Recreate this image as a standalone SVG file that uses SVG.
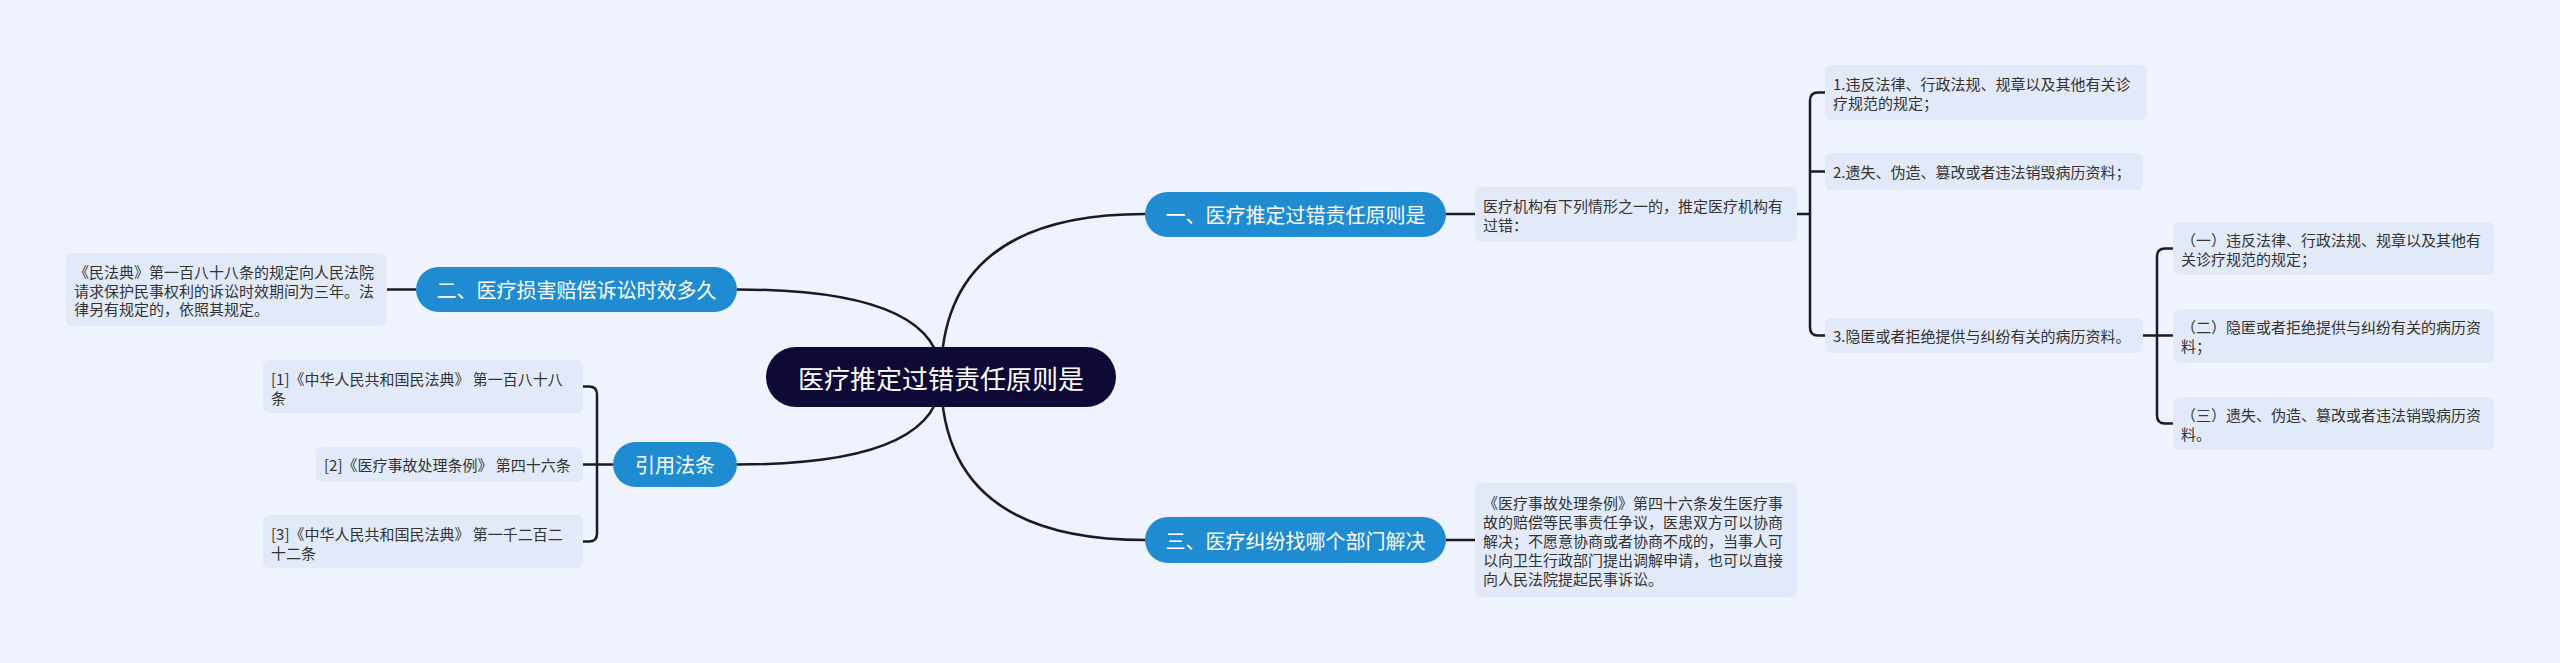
<svg xmlns="http://www.w3.org/2000/svg" width="2560" height="663" viewBox="0 0 2560 663">
<style>
.bg{fill:#eef3fd}
.root{fill:#0e0a35}
.br{fill:#1f8bd0}
.box{fill:#e2eafa}
.t{font-family:"Noto Sans CJK SC","Noto Sans",sans-serif;dominant-baseline:central}
.rt{font-size:26px;fill:#ffffff;text-anchor:middle}
.bt{font-size:20px;fill:#ffffff;text-anchor:middle}
.dt{font-size:15px;fill:#333333}
.ln{fill:none;stroke:#1a1a2a;stroke-width:2.5}
</style>
<rect class="bg" x="0" y="0" width="2560" height="663"/>
<g id="connectors">
<path class="ln" d="M941 377 Q941 214 1145 214"/>
<path class="ln" d="M941 377 Q941 540 1145 540"/>
<path class="ln" d="M941 377 Q941 289.5 737 289.5"/>
<path class="ln" d="M941 377 Q941 464.5 737 464.5"/>
<path class="ln" d="M1446 214 H1475"/>
<path class="ln" d="M1797 214 H1810"/>
<path class="ln" d="M1825 92.5 H1818 Q1810 92.5 1810 100.5 V327.5 Q1810 335.5 1818 335.5 H1825"/>
<path class="ln" d="M1810 171.5 H1825"/>
<path class="ln" d="M2143 335.5 H2157"/>
<path class="ln" d="M2173 248.5 H2165 Q2157 248.5 2157 256.5 V415.5 Q2157 423.5 2165 423.5 H2173"/>
<path class="ln" d="M2157 335.5 H2173"/>
<path class="ln" d="M1446 540 H1475"/>
<path class="ln" d="M416 289.5 H387"/>
<path class="ln" d="M613 464.5 H597"/>
<path class="ln" d="M583 386.5 H589 Q597 386.5 597 394.5 V533.5 Q597 541.5 589 541.5 H583"/>
<path class="ln" d="M583 464.5 H597"/>
</g>
<g id="root">
<rect class="root" x="766" y="347" width="350" height="60" rx="30"/>
<text class="t rt" x="941" y="377">医疗推定过错责任原则是</text>
</g>
<g id="b1">
<rect class="br" x="1145" y="192" width="301" height="45" rx="22.5"/>
<text class="t bt" x="1295.5" y="214.5">一、医疗推定过错责任原则是</text>
</g>
<g id="b1-desc">
<rect class="box" x="1475" y="187" width="322" height="55" rx="6"/>
<text class="t dt" x="1483" y="205">医疗机构有下列情形之一的，推定医疗机构有</text>
<text class="t dt" x="1483" y="224">过错：</text>
</g>
<g id="item1">
<rect class="box" x="1825" y="65" width="322" height="55" rx="6"/>
<text class="t dt" x="1833" y="83">1.违反法律、行政法规、规章以及其他有关诊</text>
<text class="t dt" x="1833" y="102">疗规范的规定；</text>
</g>
<g id="item2">
<rect class="box" x="1825" y="153" width="318" height="37" rx="6"/>
<text class="t dt" x="1833" y="171.5">2.遗失、伪造、篡改或者违法销毁病历资料；</text>
</g>
<g id="item3">
<rect class="box" x="1825" y="318" width="318" height="35" rx="6"/>
<text class="t dt" x="1833" y="335.5">3.隐匿或者拒绝提供与纠纷有关的病历资料。</text>
</g>
<g id="sub1">
<rect class="box" x="2173" y="222" width="321" height="53" rx="6"/>
<text class="t dt" x="2181" y="239">（一）违反法律、行政法规、规章以及其他有</text>
<text class="t dt" x="2181" y="258">关诊疗规范的规定；</text>
</g>
<g id="sub2">
<rect class="box" x="2173" y="309" width="321" height="54" rx="6"/>
<text class="t dt" x="2181" y="326.5">（二）隐匿或者拒绝提供与纠纷有关的病历资</text>
<text class="t dt" x="2181" y="345.5">料；</text>
</g>
<g id="sub3">
<rect class="box" x="2173" y="397" width="321" height="53" rx="6"/>
<text class="t dt" x="2181" y="414">（三）遗失、伪造、篡改或者违法销毁病历资</text>
<text class="t dt" x="2181" y="433">料。</text>
</g>
<g id="b3">
<rect class="br" x="1145" y="517" width="301" height="46" rx="23"/>
<text class="t bt" x="1295.5" y="540">三、医疗纠纷找哪个部门解决</text>
</g>
<g id="b3-desc">
<rect class="box" x="1475" y="483" width="322" height="114" rx="6"/>
<text class="t dt" x="1483" y="502">《医疗事故处理条例》第四十六条发生医疗事</text>
<text class="t dt" x="1483" y="521">故的赔偿等民事责任争议，医患双方可以协商</text>
<text class="t dt" x="1483" y="540">解决；不愿意协商或者协商不成的，当事人可</text>
<text class="t dt" x="1483" y="559">以向卫生行政部门提出调解申请，也可以直接</text>
<text class="t dt" x="1483" y="578">向人民法院提起民事诉讼。</text>
</g>
<g id="b2">
<rect class="br" x="416" y="267" width="321" height="45" rx="22.5"/>
<text class="t bt" x="576.5" y="289.5">二、医疗损害赔偿诉讼时效多久</text>
</g>
<g id="b2-desc">
<rect class="box" x="66" y="253" width="321" height="73" rx="6"/>
<text class="t dt" x="74" y="271.5">《民法典》第一百八十八条的规定向人民法院</text>
<text class="t dt" x="74" y="290">请求保护民事权利的诉讼时效期间为三年。法</text>
<text class="t dt" x="74" y="308.5">律另有规定的，依照其规定。</text>
</g>
<g id="b4">
<rect class="br" x="613" y="442" width="124" height="45" rx="22.5"/>
<text class="t bt" x="675" y="464.5">引用法条</text>
</g>
<g id="ref1">
<rect class="box" x="263" y="360" width="320" height="53" rx="6"/>
<text class="t dt" x="271" y="378">[1]《中华人民共和国民法典》 第一百八十八</text>
<text class="t dt" x="271" y="397">条</text>
</g>
<g id="ref2">
<rect class="box" x="316" y="447" width="267" height="35" rx="6"/>
<text class="t dt" x="324" y="464.5">[2]《医疗事故处理条例》 第四十六条</text>
</g>
<g id="ref3">
<rect class="box" x="263" y="515" width="320" height="53" rx="6"/>
<text class="t dt" x="271" y="533">[3]《中华人民共和国民法典》 第一千二百二</text>
<text class="t dt" x="271" y="552">十二条</text>
</g>
</svg>
